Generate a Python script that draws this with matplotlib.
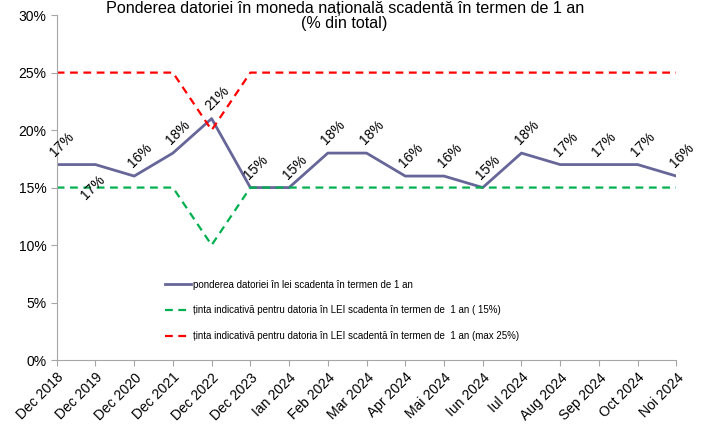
import matplotlib
matplotlib.use("Agg")
from matplotlib import pyplot as plt

plt.rcParams['font.family'] = ['Liberation Sans', 'DejaVu Sans']

luni = ["Dec 2018", "Dec 2019", "Dec 2020", "Dec 2021", "Dec 2022", "Dec 2023",
        "Ian 2024", "Feb 2024", "Mar 2024", "Apr 2024", "Mai 2024", "Iun 2024",
        "Iul 2024", "Aug 2024", "Sep 2024", "Oct 2024", "Noi 2024"]
pondere = [17, 17, 16, 18, 21, 15, 15, 18, 18, 16, 16, 15, 18, 17, 17, 17, 16]
tinta_min = [15, 15, 15, 15, 10, 15, 15, 15, 15, 15, 15, 15, 15, 15, 15, 15, 15]
tinta_max = [25, 25, 25, 25, 20, 25, 25, 25, 25, 25, 25, 25, 25, 25, 25, 25, 25]

fig = plt.figure(figsize=(7.18, 4.45), dpi=100)
ax = fig.add_axes([0.079, 0.191, 0.863, 0.775])
x = list(range(len(luni)))

ax.plot(x, pondere, color="#666699", lw=2,
        label="ponderea datoriei în lei scadenta în termen de 1 an")
ax.plot(x, tinta_min, color="#00B050", lw=1.6, ls=(0, (3.5, 2.5)),
        label="ținta indicativă pentru datoria în LEI scadenta în termen de  1 an ( 15%)")
ax.plot(x, tinta_max, color="#FF0000", lw=1.6, ls=(0, (3.5, 2.5)),
        label="ținta indicativă pentru datoria în LEI scadentă în termen de  1 an (max 25%)")

for i, v in enumerate(pondere):
    if i == 1:
        # eticheta de la Dec 2019 sta sub linie in original
        ax.annotate(f"{v}%", (i, v), xytext=(-2, -6), textcoords="offset points",
                    ha="center", va="top", rotation=45, fontsize=10)
    else:
        ax.annotate(f"{v}%", (i, v), xytext=(4, 4), textcoords="offset points",
                    ha="center", va="bottom", rotation=45, fontsize=10,
                    annotation_clip=False)

ax.set_xlim(0, len(luni) - 1)
ax.set_ylim(0, 30)
ax.set_yticks(range(0, 31, 5))
ax.set_yticklabels([f"{t}%" for t in range(0, 31, 5)], fontsize=10)
ax.set_xticks(x)
ax.set_xticklabels(luni, rotation=45, ha="right", rotation_mode="anchor", fontsize=10)

for s in ["top", "right"]:
    ax.spines[s].set_visible(False)
for s in ["left", "bottom"]:
    ax.spines[s].set_color("#A6A6A6")
ax.tick_params(axis="both", color="#A6A6A6", length=4)

ax.legend(loc="lower left", bbox_to_anchor=(0.16, 0.03), frameon=False,
          fontsize=7, handlelength=2.7, labelspacing=1.6, handletextpad=0.2)

fig.text(0.48, 0.964, "Ponderea datoriei în moneda națională scadentă în termen de 1 an\n(% din total)",
         ha="center", va="center", fontsize=11.6, linespacing=1.0)

fig.savefig("out.png", dpi=100)
